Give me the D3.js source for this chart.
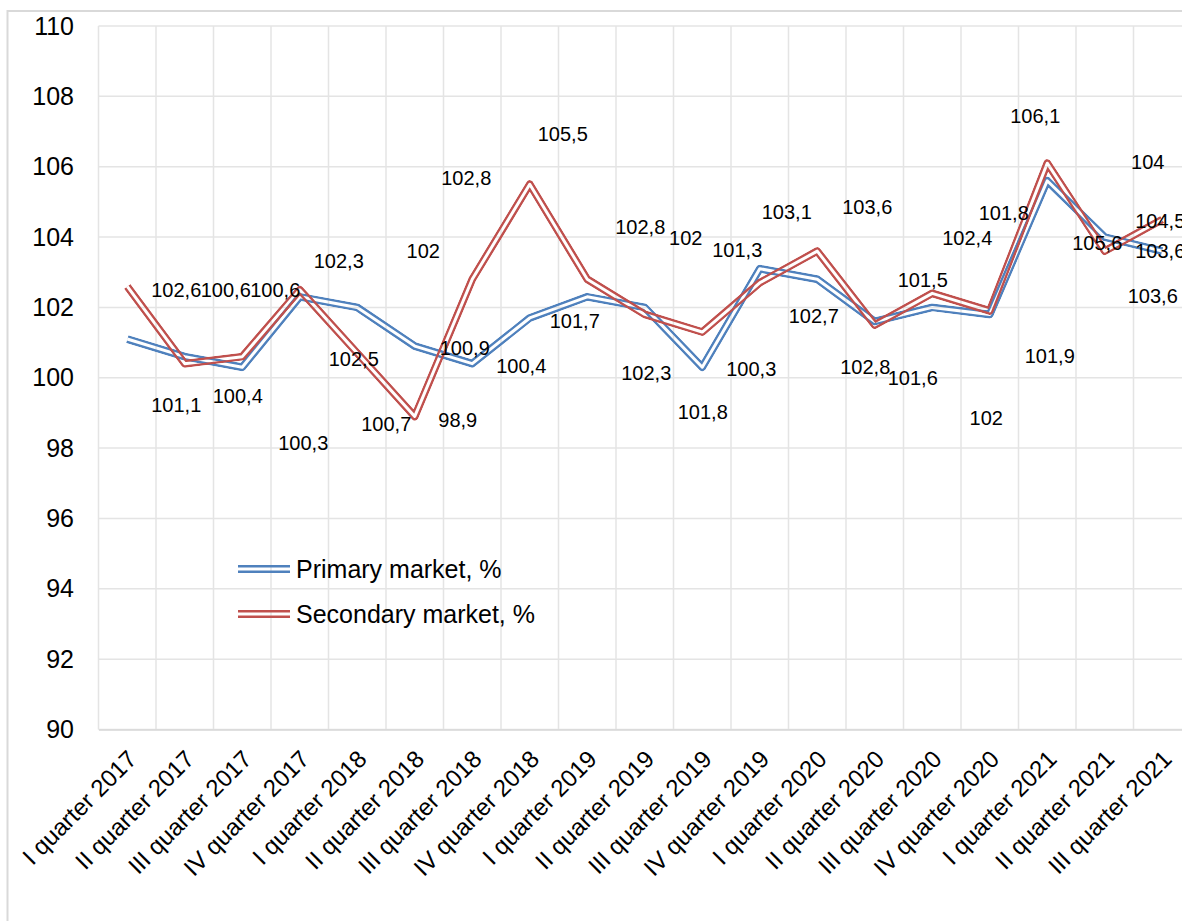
<!DOCTYPE html>
<html>
<head>
<meta charset="utf-8">
<script src="https://cdn.jsdelivr.net/npm/d3@7"></script>
<style>
  html, body { margin: 0; padding: 0; background: #fff; overflow: hidden; }
  svg { display: block; font-family: "Liberation Sans", Arial, sans-serif; }
</style>
</head>
<body>
<svg id="chart" width="1182" height="921"></svg>
<script>
const quarters = [
  'I quarter 2017', 'II quarter 2017', 'III quarter 2017', 'IV quarter 2017',
  'I quarter 2018', 'II quarter 2018', 'III quarter 2018', 'IV quarter 2018',
  'I quarter 2019', 'II quarter 2019', 'III quarter 2019', 'IV quarter 2019',
  'I quarter 2020', 'II quarter 2020', 'III quarter 2020', 'IV quarter 2020',
  'I quarter 2021', 'II quarter 2021', 'III quarter 2021'
];
const primary = [101.1, 100.6, 100.3, 102.3, 102, 100.9, 100.4, 101.7, 102.3, 102,
  100.3, 103.1, 102.8, 101.6, 102, 101.8, 105.6, 104, 103.6];
const secondary = [102.6, 100.4, 100.6, 102.5, 100.7, 98.9, 102.8, 105.5, 102.8, 101.8,
  101.3, 102.7, 103.6, 101.5, 102.4, 101.9, 106.1, 103.6, 104.5];
const yTicks = [90, 92, 94, 96, 98, 100, 102, 104, 106, 108, 110];
const seriesNames = ['Primary market, %', 'Secondary market, %'];

// where each data label was dragged to in the original, px from its point
const primaryNudge = [[49, 66], [41, -67], [61, 76], [39, -36], [66, -57], [50, 2], [49, 2],
  [45, 3], [59, 76], [41, -70], [49, 2], [27, -57], [48, 88], [38, 56], [54, 110],
  [14, -102], [50, 62], [43, -75], [-2, 0]];
const secondaryNudge = [[49, 4], [53, 32], [33, -67], [54, 69], [29, 71], [43, 3], [-6, -101],
  [33, -50], [53, -52], [58, 97], [35, -82], [54, 33], [50, -44], [48, -45], [35, -56],
  [60, 45], [-12, -47], [48, 45], [-2, 1]];

const BLUE = '#4f81bd', RED = '#c0504d', GRID = '#e4e4e4';
const LINE_W = 8, GAP_W = 3;

const svg = d3.select('#chart');
const defs = svg.append('defs');

// chart frame (runs off the right/bottom of the picture)
svg.append('rect').attr('x', 7.5).attr('y', 11).attr('width', 1300).attr('height', 1000)
  .attr('fill', 'none').attr('stroke', '#d9d9d9').attr('stroke-width', 2);

const x = d3.scaleBand().domain(quarters).range([98.5, 98.5 + 57.5 * quarters.length]);
const y = d3.scaleLinear().domain([90, 110]).range([729.5, 26]);
const cx = q => x(q) + x.bandwidth() / 2;

// grid
const grid = svg.append('g');
grid.selectAll('.hg').data(yTicks).join('line')
  .attr('x1', x.range()[0]).attr('x2', x.range()[1])
  .attr('y1', d => y(d)).attr('y2', d => y(d))
  .attr('stroke', GRID).attr('stroke-width', 1.5);
grid.selectAll('.vg').data(d3.range(quarters.length + 1)).join('line')
  .attr('x1', i => x.range()[0] + i * x.step()).attr('x2', i => x.range()[0] + i * x.step())
  .attr('y1', y(110)).attr('y2', y(90))
  .attr('stroke', GRID).attr('stroke-width', 1.5);

// axes
const yAxis = svg.append('g').attr('transform', `translate(${x.range()[0]},0)`)
  .call(d3.axisLeft(y).tickValues(yTicks).tickSize(0).tickPadding(24.5));
yAxis.select('.domain').remove();
yAxis.selectAll('text').attr('font-size', 25).attr('fill', '#000')
  .attr('font-family', '"Liberation Sans", Arial, sans-serif');

const xAxis = svg.append('g').attr('transform', `translate(0,${y(90)})`)
  .call(d3.axisBottom(x).tickSize(0));
xAxis.select('.domain').attr('stroke', '#d9d9d9').attr('stroke-width', 1.5);
xAxis.selectAll('text')
  .attr('font-size', 24).attr('fill', '#000')
  .attr('font-family', '"Liberation Sans", Arial, sans-serif')
  .attr('text-anchor', 'end').attr('x', 0).attr('y', 0).attr('dy', 0)
  .attr('transform', 'translate(11,31) rotate(-45)');

// double ("compound") line: coloured stroke with a transparent core
let maskN = 0;
function doubleLine(parent, d, color) {
  const id = `dbl-${maskN++}`;
  const m = defs.append('mask').attr('id', id).attr('maskUnits', 'userSpaceOnUse')
    .attr('x', 0).attr('y', 0).attr('width', 1182).attr('height', 921);
  m.append('path').attr('d', d).attr('fill', 'none').attr('stroke', '#fff')
    .attr('stroke-width', LINE_W).attr('stroke-linejoin', 'round');
  m.append('path').attr('d', d).attr('fill', 'none').attr('stroke', '#000')
    .attr('stroke-width', GAP_W).attr('stroke-linejoin', 'round');
  parent.append('path').attr('d', d).attr('fill', 'none').attr('stroke', color)
    .attr('stroke-width', LINE_W).attr('stroke-linejoin', 'round').attr('mask', `url(#${id})`);
}

const line = d3.line().x((v, i) => cx(quarters[i])).y(v => y(v));
const series = [
  { name: seriesNames[0], values: primary, color: BLUE, nudge: primaryNudge },
  { name: seriesNames[1], values: secondary, color: RED, nudge: secondaryNudge }
];

const plot = svg.append('g');
series.forEach(s => doubleLine(plot, line(s.values), s.color));

// data labels
const fmt = v => String(v).replace('.', ',');
series.forEach(s => {
  svg.append('g').selectAll('text').data(s.values).join('text')
    .attr('x', (v, i) => cx(quarters[i]) + s.nudge[i][0])
    .attr('y', (v, i) => y(v) + s.nudge[i][1])
    .attr('dy', '0.36em')
    .attr('text-anchor', 'middle')
    .attr('font-size', 20)
    .attr('fill', '#000')
    .text(fmt);
});

// legend
const legend = svg.append('g');
series.forEach((s, i) => {
  const ly = 569 + i * 45;
  doubleLine(legend, `M238,${ly}H290`, s.color);
  legend.append('text').attr('x', 296).attr('y', ly).attr('dy', '0.36em')
    .attr('font-size', 25).attr('fill', '#000').text(s.name);
});
</script>
</body>
</html>
